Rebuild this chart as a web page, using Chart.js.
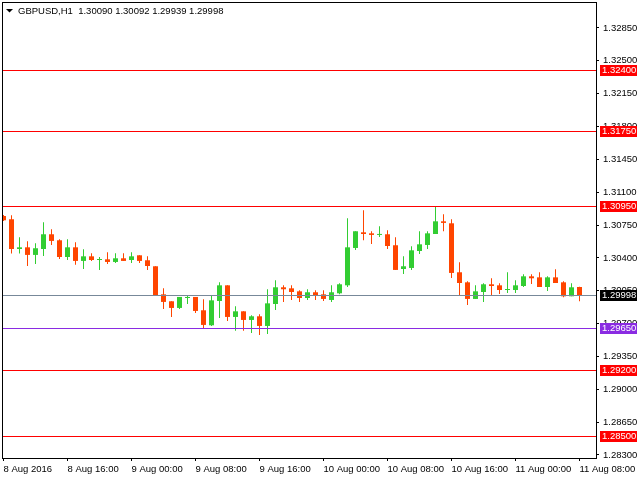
<!DOCTYPE html>
<html>
<head>
<meta charset="utf-8">
<script src="https://cdn.jsdelivr.net/npm/chart.js@4.4.0/dist/chart.umd.min.js"></script>
<style>
html, body { margin: 0; padding: 0; background: #fff; }
canvas { display: block; }
</style>
</head>
<body>
<canvas id="grafico" width="640" height="480"></canvas>
<script>
// Datos: velas H1 de GBPUSD
const simbolo = 'GBPUSD,H1';
const aperturas = [
    1.30847, 1.30812, 1.30495, 1.30513, 1.30432, 1.30495, 1.30652, 1.30588, 1.30410, 1.30513,
    1.30368, 1.30417, 1.30378, 1.30385, 1.30357, 1.30396, 1.30378, 1.30428, 1.30375, 1.30311,
    1.30012, 1.29938, 1.29867, 1.29973, 1.29984, 1.29842, 1.29682, 1.29941, 1.30108, 1.29771,
    1.29831, 1.29739, 1.29778, 1.29675, 1.29909, 1.30087, 1.30076, 1.30044, 1.29973, 1.30034,
    1.30012, 1.29952, 1.30023, 1.30108, 1.30506, 1.30673, 1.30662, 1.30645, 1.30652, 1.30535,
    1.30282, 1.30293, 1.30474, 1.30538, 1.30655, 1.30790, 1.30769, 1.30247, 1.30140, 1.29963,
    1.30037, 1.30119, 1.30108, 1.30058, 1.30058, 1.30101, 1.30204, 1.30193, 1.30090, 1.30193,
    1.30140, 1.29991, 1.30090
];
const maximos = [
    1.30858, 1.30854, 1.30620, 1.30577, 1.30556, 1.30780, 1.30705, 1.30598, 1.30598, 1.30566,
    1.30492, 1.30449, 1.30410, 1.30460, 1.30449, 1.30449, 1.30460, 1.30428, 1.30417, 1.30311,
    1.30076, 1.29938, 1.29984, 1.29995, 1.29984, 1.29959, 1.30002, 1.30140, 1.30108, 1.29884,
    1.29831, 1.29789, 1.29799, 1.30066, 1.30161, 1.30108, 1.30108, 1.30055, 1.30066, 1.30055,
    1.30055, 1.30108, 1.30130, 1.30822, 1.30684, 1.30907, 1.30684, 1.30737, 1.30694, 1.30620,
    1.30417, 1.30524, 1.30684, 1.30684, 1.30950, 1.30865, 1.30812, 1.30353, 1.30151, 1.30108,
    1.30130, 1.30183, 1.30130, 1.30247, 1.30161, 1.30225, 1.30225, 1.30247, 1.30204, 1.30279,
    1.30151, 1.30130, 1.30092
];
const minimos = [
    1.30794, 1.30446, 1.30446, 1.30314, 1.30336, 1.30421, 1.30538, 1.30389, 1.30378, 1.30328,
    1.30282, 1.30368, 1.30272, 1.30336, 1.30346, 1.30368, 1.30346, 1.30346, 1.30272, 1.29995,
    1.29856, 1.29771, 1.29856, 1.29909, 1.29813, 1.29654, 1.29675, 1.29760, 1.29728, 1.29625,
    1.29625, 1.29600, 1.29579, 1.29590, 1.29845, 1.29931, 1.29952, 1.29931, 1.29952, 1.29952,
    1.29941, 1.29931, 1.30012, 1.30090, 1.30485, 1.30588, 1.30549, 1.30623, 1.30495, 1.30272,
    1.30229, 1.30272, 1.30442, 1.30495, 1.30655, 1.30684, 1.30186, 1.30005, 1.29899, 1.29963,
    1.29931, 1.30005, 1.30016, 1.30027, 1.30027, 1.30090, 1.30122, 1.30090, 1.30048, 1.30133,
    1.29980, 1.29991, 1.29939
];
const cierres = [
    1.30801, 1.30495, 1.30513, 1.30432, 1.30503, 1.30652, 1.30581, 1.30410, 1.30513, 1.30368,
    1.30417, 1.30378, 1.30385, 1.30357, 1.30396, 1.30368, 1.30417, 1.30368, 1.30314, 1.30005,
    1.29931, 1.29867, 1.29984, 1.29984, 1.29835, 1.29686, 1.29948, 1.30108, 1.29771, 1.29831,
    1.29739, 1.29778, 1.29675, 1.29916, 1.30087, 1.30066, 1.30037, 1.29973, 1.30034, 1.29995,
    1.29963, 1.30034, 1.30119, 1.30513, 1.30684, 1.30655, 1.30645, 1.30655, 1.30527, 1.30272,
    1.30311, 1.30481, 1.30545, 1.30662, 1.30790, 1.30773, 1.30240, 1.30133, 1.29963, 1.30044,
    1.30119, 1.30101, 1.30058, 1.30069, 1.30108, 1.30204, 1.30183, 1.30090, 1.30193, 1.30133,
    1.29991, 1.30087, 1.29998
];

// Etiquetas del eje de tiempo (cada 8 velas)
const indicesTiempo = [0, 8, 16, 24, 32, 40, 48, 56, 64, 72];
const etiquetasTiempo = ['8 Aug 2016', '8 Aug 16:00', '9 Aug 00:00', '9 Aug 08:00', '9 Aug 16:00',
    '10 Aug 00:00', '10 Aug 08:00', '10 Aug 16:00', '11 Aug 00:00', '11 Aug 08:00'];

// Marcas del eje de precios
const preciosEje = [1.32850, 1.32500, 1.32150, 1.31800, 1.31450, 1.31100, 1.30750,
    1.30400, 1.30050, 1.29700, 1.29350, 1.29000, 1.28650, 1.28300];

// Niveles horizontales
const nivelesRojos = [1.32400, 1.31750, 1.30950, 1.29200, 1.28500];
const nivelesVioleta = [1.29650];

// Estilos
const VERDE = '#32CD32';
const NARANJA = '#FF4500';
const ROJO = '#FF0000';
const VIOLETA = '#8A2BE2';
const GRIS_BID = '#778899';
const TAM_FUENTE = 9.5;
const FUENTE = TAM_FUENTE + 'px "Liberation Sans", Arial, sans-serif';

const colores = aperturas.map((o, i) => cierres[i] >= o ? VERDE : NARANJA);
const mechas = aperturas.map((o, i) => ({ x: i, y: [minimos[i], maximos[i]] }));
const cuerpos = aperturas.map((o, i) => ({ x: i, y: [o, cierres[i]] }));

const ultimo = aperturas.length - 1;
const precioBid = cierres[ultimo];

// Plugin estilo MetaTrader: lineas, etiquetas y cabecera
const pluginMT4 = {
    id: 'mt4',
    afterDatasetsDraw(chart) {
        const { ctx, chartArea: a, scales: { y } } = chart;
        ctx.save();
        ctx.lineWidth = 1;
        function linea(p, color) {
            const py = Math.floor(y.getPixelForValue(p)) + 0.5;
            ctx.strokeStyle = color;
            ctx.beginPath();
            ctx.moveTo(a.left, py);
            ctx.lineTo(a.right, py);
            ctx.stroke();
        }
        nivelesRojos.forEach(p => linea(p, ROJO));
        nivelesVioleta.forEach(p => linea(p, VIOLETA));
        linea(precioBid, GRIS_BID);
        ctx.restore();
    },
    afterDraw(chart) {
        const { ctx, chartArea: a, scales: { y } } = chart;
        ctx.save();
        // marco
        ctx.strokeStyle = '#000';
        ctx.lineWidth = 1;
        ctx.strokeRect(a.left + 0.5, a.top + 0.5, a.right - a.left, a.bottom - a.top);

        // etiquetas de nivel en el eje
        ctx.font = FUENTE;
        ctx.textAlign = 'left';
        ctx.textBaseline = 'middle';
        function caja(p, fondo) {
            const py = Math.floor(y.getPixelForValue(p));
            ctx.fillStyle = fondo;
            ctx.fillRect(a.right + 4, py - 5, 37, 11);
            ctx.fillStyle = '#fff';
            ctx.fillText(p.toFixed(5), a.right + 6, py + 0.5);
        }
        nivelesRojos.forEach(p => caja(p, ROJO));
        nivelesVioleta.forEach(p => caja(p, VIOLETA));
        caja(precioBid, '#000');

        // cabecera
        ctx.fillStyle = '#000';
        ctx.beginPath();
        ctx.moveTo(6, 9);
        ctx.lineTo(13, 9);
        ctx.lineTo(9.5, 12.5);
        ctx.closePath();
        ctx.fill();
        const cab = simbolo + '  ' + [aperturas[ultimo], maximos[ultimo], minimos[ultimo], cierres[ultimo]]
            .map(v => v.toFixed(5)).join(' ');
        ctx.fillText(cab, 18, 11);
        ctx.restore();
    }
};

Chart.defaults.color = '#000';
Chart.defaults.font.family = '"Liberation Sans", Arial, sans-serif';
Chart.defaults.font.size = TAM_FUENTE;

new Chart(document.getElementById('grafico').getContext('2d'), {
    type: 'bar',
    data: {
        datasets: [
            {
                label: 'Mechas',
                data: mechas,
                backgroundColor: colores,
                barThickness: 1,
                grouped: false,
                borderWidth: 0,
                inflateAmount: 0
            },
            {
                label: 'Cuerpos',
                data: cuerpos,
                backgroundColor: colores,
                barThickness: 5,
                minBarLength: 1,
                grouped: false,
                borderWidth: 0,
                inflateAmount: 0
            }
        ]
    },
    options: {
        responsive: false,
        devicePixelRatio: 1,
        animation: false,
        events: [],
        layout: { padding: { left: 2, top: 2, right: 0, bottom: 0 } },
        plugins: {
            legend: { display: false },
            tooltip: { enabled: false }
        },
        scales: {
            x: {
                type: 'linear',
                offset: false,
                min: -0.1875,
                max: 74.0625,
                afterBuildTicks: s => { s.ticks = indicesTiempo.map(v => ({ value: v })); },
                afterFit: s => { s.height = 22; s.paddingLeft = 0; s.paddingRight = 0; },
                ticks: {
                    callback: (v, i) => etiquetasTiempo[i],
                    align: 'start',
                    maxRotation: 0,
                    autoSkip: false,
                    padding: 3
                },
                grid: { offset: false, drawOnChartArea: false, tickLength: 3, color: '#000' },
                border: { color: '#000' }
            },
            y: {
                type: 'linear',
                position: 'right',
                beginAtZero: false,
                min: 1.28268,
                max: 1.33127,
                afterBuildTicks: s => { s.ticks = preciosEje.map(v => ({ value: v })); },
                afterFit: s => { s.width = 44; s.paddingTop = 0; s.paddingBottom = 0; },
                ticks: {
                    callback: v => Number(v).toFixed(5),
                    autoSkip: false,
                    padding: 4
                },
                grid: { drawOnChartArea: false, tickLength: 3, color: '#000' },
                border: { color: '#000' }
            }
        }
    },
    plugins: [pluginMT4]
});
</script>
</body>
</html>
